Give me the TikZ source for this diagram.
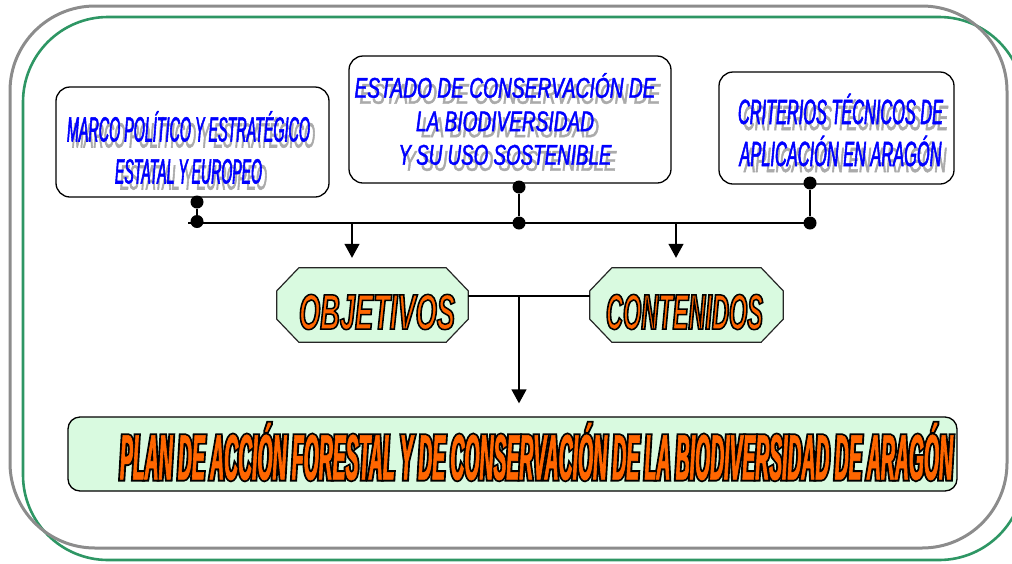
\documentclass[tikz,border=0pt]{standalone}
\usepackage{fontspec}
\setmainfont{Liberation Sans}
\newfontfamily\bluefont[FakeBold=1.5]{Liberation Sans}
\newfontfamily\orfont{Liberation Sans}
\usepackage{graphicx}
\usetikzlibrary{arrows.meta}
\definecolor{framegray}{RGB}{140,140,140}
\definecolor{framegreen}{RGB}{46,150,100}
\definecolor{textblue}{RGB}{0,0,255}
\definecolor{shadowgray}{RGB}{170,170,170}
\definecolor{lightgreen}{RGB}{217,250,224}
\definecolor{orangex}{RGB}{255,102,0}
% shadowed blue line: stretch, width, text
\newcommand\shl[3]{{\addfontfeatures{FakeStretch=#1}\makebox[0pt][l]{\smash{\hspace*{5pt}\raisebox{-6pt}{\color{shadowgray}\resizebox{#2}{\height}{#3}}}}\resizebox{#2}{\height}{#3}}}
% outlined text, one layer: stretch, width, line width, text
\newcommand\outl[4]{{\addfontfeatures{FakeStretch=#1}\resizebox{#2}{\height}{\special{pdf:literal direct 2 Tr #3 w 0 0 0 RG}#4\special{pdf:literal direct 0 Tr}}}}
% outlined text, two layers: stretch, width, black width, orange width, text
\newcommand\outlb[5]{{\addfontfeatures{FakeStretch=#1}\makebox[0pt][l]{\textcolor{black}{\resizebox{#2}{\height}{\special{pdf:literal direct 2 Tr #3 w}#5\special{pdf:literal direct 0 Tr}}}}\resizebox{#2}{\height}{\special{pdf:literal direct 2 Tr #4 w}#5\special{pdf:literal direct 0 Tr}}}}
\tikzset{
  rbox/.style={draw=black, line width=1.3pt, rounded corners=14pt, fill=white, inner sep=0pt},
  octbox/.style={inner sep=0pt},
  octline/.style={draw=black!85, line width=1.2pt, fill=lightgreen},
  btext/.style={text=textblue, align=center, inner sep=0pt},
  otext/.style={text=orangex, inner sep=0pt},
  dot/.style={circle, fill=black, inner sep=0pt, minimum size=13pt},
  conn/.style={line width=1.3pt, draw=black},
  arr/.style={conn, -{Triangle[width=15pt,length=14pt]}},
  gframe/.style={draw=framegray, line width=3pt, rounded corners=85pt},
  grframe/.style={draw=framegreen, line width=2.6pt, rounded corners=85pt}
}
\newcommand\octagon[1]{%
  \filldraw[octline] ([xshift=22pt]#1.north west) -- ([xshift=-22pt]#1.north east)
    -- ([yshift=-23pt]#1.north east) -- ([yshift=23pt]#1.south east)
    -- ([xshift=-22pt]#1.south east) -- ([xshift=22pt]#1.south west)
    -- ([yshift=23pt]#1.south west) -- ([yshift=-23pt]#1.north west) -- cycle;}
\begin{document}
\begin{tikzpicture}[x=1pt,y=-1pt]
\useasboundingbox (0,0) rectangle (1012,563);
% frames
\draw[grframe] (23,17) rectangle (1024,560);
\draw[gframe] (10,6) rectangle (1007,548);
% top boxes
\node[rbox, minimum width=273pt, minimum height=110pt] (marco) at (192.5,142) {};
\node[rbox, minimum width=322pt, minimum height=127pt] (estado) at (510,119.5) {};
\node[rbox, minimum width=235pt, minimum height=112pt] (crit) at (836.5,128) {};
% octagons
\node[octbox, minimum width=191pt, minimum height=74pt] (obj) at (372.5,305) {};
\node[octbox, minimum width=193pt, minimum height=74pt] (con) at (686.5,305) {};
\octagon{obj}
\octagon{con}
% bottom box
\node[rbox, fill=lightgreen, rounded corners=12pt, minimum width=889pt, minimum height=74pt] (plan) at (512.5,454) {};
% orange outlined texts
\node[otext, font=\orfont\bfseries\itshape\fontsize{50pt}{50pt}\selectfont] (objt) at (377,312) {\outl{0.52}{156pt}{1.5}{OBJETIVOS}};
\node[otext, font=\orfont\bfseries\itshape\fontsize{50pt}{50pt}\selectfont] (cont) at (684.5,312) {\outl{0.44}{157pt}{1.5}{CONTENIDOS}};
\node[otext, font=\orfont\bfseries\itshape\fontsize{64pt}{64pt}\selectfont] (plant) at (536.5,451.5)
  {\outlb{0.29}{833pt}{4.2}{0.6}{PLAN DE ACCIÓN FORESTAL Y DE CONSERVACIÓN DE LA BIODIVERSIDAD DE ARAGÓN}};
% blue shadowed texts
\node[btext, font=\bluefont\itshape\fontsize{35pt}{42pt}\selectfont] (marcot) at (188.5,147.5)
  {\shl{0.41}{243pt}{MARCO POLÍTICO Y ESTRATÉGICO}\\\shl{0.39}{147pt}{ESTATAL Y EUROPEO}};
\node[btext, font=\bluefont\itshape\fontsize{28.5pt}{33.5pt}\selectfont] (estadot) at (505,119)
  {\shl{0.67}{301pt}{ESTADO DE CONSERVACIÓN DE}\\\shl{0.67}{178pt}{LA BIODIVERSIDAD}\\\shl{0.66}{213pt}{Y SU USO SOSTENIBLE}};
\node[btext, font=\bluefont\itshape\fontsize{35pt}{42pt}\selectfont] (critt) at (840.5,130)
  {\shl{0.47}{205pt}{CRITERIOS TÉCNICOS DE}\\\shl{0.47}{202pt}{APLICACIÓN EN ARAGÓN}};
% dots
\node[dot] (d1a) at (197,202) {};
\node[dot] (d1b) at (197,221.5) {};
\node[dot] (d2a) at (519,187) {};
\node[dot] (d2b) at (519,223) {};
\node[dot] (d3a) at (810,183) {};
\node[dot] (d3b) at (810,223) {};
\coordinate (hl) at (188,223);
\coordinate (a1) at (352,223);
\coordinate (a2) at (676,223);
\coordinate (j) at (519,296);
% connectors
\draw[conn] (d1a) -- (d1b);
\draw[conn] (d2a) -- (d2b);
\draw[conn] (d3a) -- (d3b);
\draw[conn] (hl) -- (d3b.center);
\draw[arr, shorten >=10pt] (a1) -- (a1 |- obj.north);
\draw[arr, shorten >=10pt] (a2) -- (a2 |- con.north);
\draw[conn] (obj.east |- j) -- (con.west |- j);
\draw[arr, shorten >=13pt] (j) -- (j |- plan.north);
\end{tikzpicture}
\end{document}
